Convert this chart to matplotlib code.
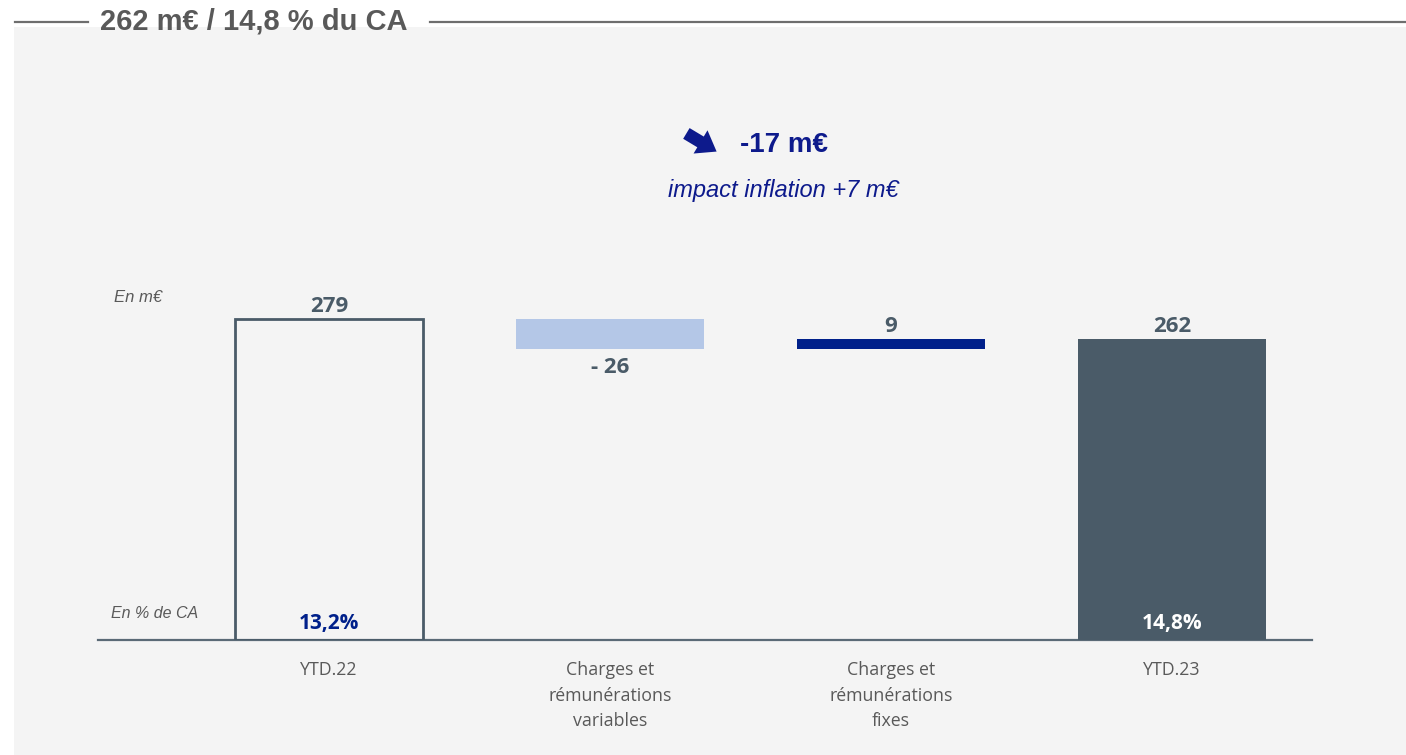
import matplotlib
matplotlib.use("Agg")
import matplotlib.pyplot as plt
from matplotlib.patches import Rectangle, FancyArrowPatch
from matplotlib.lines import Line2D

# données du graphique (en m€)
categories = ["YTD.22", "Charges et\nrémunérations\nvariables",
              "Charges et\nrémunérations\nfixes", "YTD.23"]
values = [279, -26, 9, 262]
kinds = ["total", "delta", "delta", "total"]
value_labels = ["279", "- 26", "9", "262"]
pct_labels = ["13,2%", None, None, "14,8%"]

title = "262 m€ / 14,8 % du CA"
headline = "-17 m€"
subline = "impact inflation +7 m€"

W, H = 1406, 755
def fx(px): return px / W
def fy(py): return 1 - py / H

slate = "#4a5b68"
navy = "#00208a"
light = "#b4c7e7"
grey_txt = "#595959"
num_font = "Open Sans"

fig = plt.figure(figsize=(W / 100, H / 100), dpi=100, facecolor="white")
fig.patches.append(Rectangle((fx(14), 0), 1 - fx(14), fy(27), transform=fig.transFigure,
                             facecolor="#f4f4f4", edgecolor="none", zorder=-5))

# titre avec filets
fig.add_artist(Line2D([fx(15), fx(88)], [fy(22), fy(22)], color="#6e6e6e", lw=1.6))
fig.add_artist(Line2D([fx(430), fx(1406)], [fy(22), fy(22)], color="#6e6e6e", lw=1.6))
fig.text(fx(100), fy(22), title, ha="left", va="center", fontsize=21,
         fontweight="bold", family="Liberation Sans", color=grey_txt)

# flèche et message
fig.add_artist(FancyArrowPatch((fx(684), fy(132)), (fx(719), fy(153)), transform=fig.transFigure,
                               arrowstyle="simple,head_width=1.3,head_length=0.9,tail_width=0.6",
                               mutation_scale=15, color="#0d1a8c", lw=0))
fig.text(fx(740), fy(145), headline, ha="left", va="center", fontsize=20,
         fontweight="bold", family="Liberation Sans", color="#0d1a8c")
fig.text(fx(783), fy(191), subline, ha="center", va="center", fontsize=17,
         style="italic", family="Liberation Sans", color="#0d1a8c")

fig.text(fx(114), fy(298), "En m€", ha="left", va="center", fontsize=12,
         style="italic", family="Liberation Sans", color=grey_txt)
fig.text(fx(111), fy(614), "En % de CA", ha="left", va="center", fontsize=11.5,
         style="italic", family="Liberation Sans", color=grey_txt)

ax = fig.add_axes([fx(98), fy(640), fx(1312) - fx(98), fy(290) - fy(640)], zorder=2)
ax.set_facecolor("none")

xs = list(range(len(values)))
bw = 0.67
running = 0
for i, (v, k) in enumerate(zip(values, kinds)):
    if k == "total":
        bottom, height = 0, v
        running = v
    else:
        bottom = running + min(v, 0)
        height = abs(v)
        running += v
    if i == 0:
        ax.bar(i, height, bw, bottom=bottom, facecolor="none", edgecolor=slate, lw=2, zorder=3)
    elif i == 1:
        ax.bar(i, height, bw, bottom=bottom, color=light, zorder=3)
    elif i == 2:
        ax.bar(i, height, bw, bottom=bottom, color=navy, zorder=3)
    else:
        ax.bar(i, height, bw, bottom=bottom, color=slate, zorder=3)

    top = bottom + height
    if k == "delta" and v < 0:
        ax.annotate(value_labels[i], (i, bottom), xytext=(0, -6), textcoords="offset points",
                    ha="center", va="top", fontsize=16, fontweight="bold",
                    family=num_font, color=slate)
    else:
        ax.annotate(value_labels[i], (i, top), xytext=(0, 5), textcoords="offset points",
                    ha="center", va="baseline", fontsize=16, fontweight="bold",
                    family=num_font, color=slate)
    if pct_labels[i]:
        ax.annotate(pct_labels[i], (i, 0), xytext=(0, 8), textcoords="offset points",
                    ha="center", va="baseline", fontsize=15, fontweight="bold",
                    family=num_font, color=navy if i == 0 else "white", zorder=4)

ax.set_xlim(-0.822, 3.498)
ax.set_ylim(0, 304.2)
ax.set_yticks([])
ax.set_xticks(xs)
ax.set_xticklabels(categories, fontsize=12.8, family=num_font, color=grey_txt, linespacing=1.55)
ax.tick_params(axis="x", length=0, pad=15)
for s in ["top", "right", "left"]:
    ax.spines[s].set_visible(False)
ax.spines["bottom"].set_color("#5a6a76")
ax.spines["bottom"].set_linewidth(1.6)

fig.savefig("out.png", dpi=100, facecolor=fig.get_facecolor())
